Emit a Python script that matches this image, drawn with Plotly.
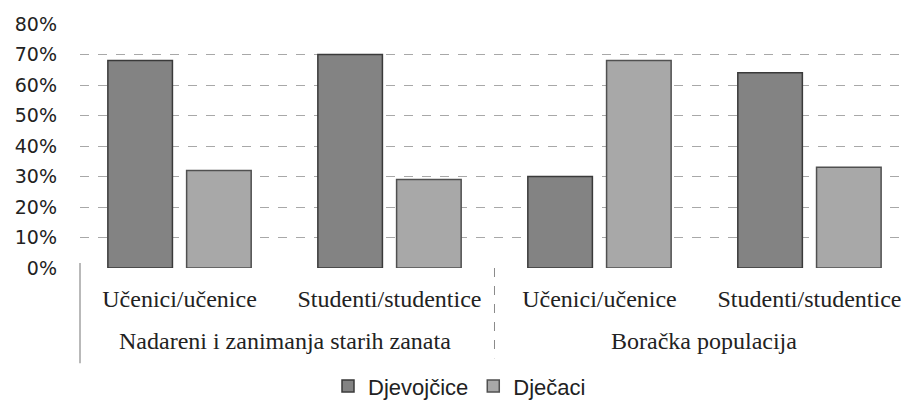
import plotly.graph_objects as go

groups = ["Nadareni i zanimanja starih zanata", "Nadareni i zanimanja starih zanata",
          "Boračka populacija", "Boračka populacija"]
subcats = ["Učenici/učenice", "Studenti/studentice", "Učenici/učenice", "Studenti/studentice"]
djevojcice = [68, 70, 30, 64]
djecaci = [32, 29, 68, 33]
y_ticks = [0, 10, 20, 30, 40, 50, 60, 70, 80]
y_ticklabels = [f"{v}%" for v in y_ticks]

xpos = list(range(len(subcats)))

fig = go.Figure()
fig.add_trace(go.Bar(
    name="Djevojčice", x=xpos, y=djevojcice,
    marker=dict(color="#838383", line=dict(color="#3a3a3a", width=1.5)),
))
fig.add_trace(go.Bar(
    name="Dječaci", x=xpos, y=djecaci,
    marker=dict(color="#a8a8a8", line=dict(color="#505050", width=1.5)),
))

# group labels and dividers derived from the group list
unique_groups = []
for g in groups:
    if g not in unique_groups:
        unique_groups.append(g)
annotations = []
shapes = []
for g in unique_groups:
    idx = [i for i, gg in enumerate(groups) if gg == g]
    center = sum(idx) / len(idx)
    annotations.append(dict(
        x=center, y=0, xref="x", yref="y", text=g, showarrow=False,
        yanchor="middle", yshift=-73,
        font=dict(family="Liberation Serif, DejaVu Serif", size=24, color="#222"),
    ))
    if idx[0] > 0:
        shapes.append(dict(type="line", xref="x", yref="paper",
                           x0=idx[0] - 0.5, x1=idx[0] - 0.5, y0=0, y1=-0.37,
                           line=dict(color="#8a8a8a", width=1, dash="dash")))
shapes.append(dict(type="line", xref="paper", yref="paper",
                   x0=0, x1=0, y0=0.02, y1=-0.39,
                   line=dict(color="#8a8a8a", width=1.2)))

# page body adds an 8px offset; figure sized so the page fits the window
fig.update_layout(
    width=902, height=402,
    margin=dict(l=72, r=5, t=16, b=141),
    paper_bgcolor="white", plot_bgcolor="white",
    barmode="group", bargap=0.25, bargroupgap=0.18,
    showlegend=True,
    legend=dict(orientation="h", x=0.46, xanchor="center", y=-0.478, yanchor="middle",
                font=dict(family="Liberation Sans, Arial", size=22, color="#222"),
                itemwidth=30, traceorder="normal"),
    annotations=annotations,
    shapes=shapes,
)
fig.update_yaxes(
    range=[0, 80], tickvals=y_ticks, ticktext=y_ticklabels,
    showgrid=True, gridcolor="#a8a8a8", griddash="dash", gridwidth=1,
    zeroline=False, showline=False, automargin=False,
    tickfont=dict(family="DejaVu Sans", size=19, color="#222"),
    ticks="", ticklabelstandoff=22,
)
fig.update_xaxes(
    range=[-0.474, 3.455],
    tickvals=xpos, ticktext=subcats,
    showline=False, showgrid=False, zeroline=False, automargin=False,
    tickfont=dict(family="Liberation Serif, DejaVu Serif", size=24, color="#222"),
    ticks="", ticklabelstandoff=14,
)
fig.write_html("out.html")
